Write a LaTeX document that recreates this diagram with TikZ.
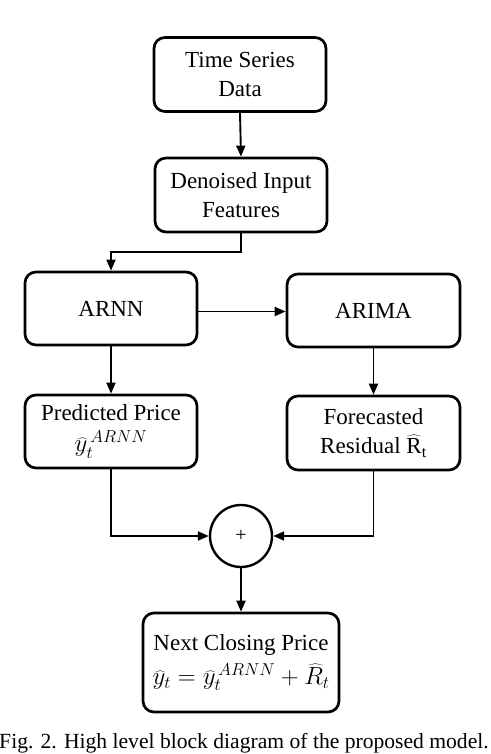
\documentclass[tikz,border=0pt]{standalone}
\usepackage{fontspec}
\setmainfont{Liberation Serif}
\usetikzlibrary{arrows.meta}
\tikzset{
  blk/.style={draw, line width=2.7pt, rounded corners=11pt, minimum width=172pt, minimum height=74pt, align=center, inner sep=2pt, font=\fontsize{23}{29}\selectfont},
  sumc/.style={draw, line width=2.4pt, circle, minimum size=62pt, inner sep=0pt, font=\fontsize{20}{24}\selectfont},
  arr/.style={line width=1.9pt, -{Triangle[length=11pt,width=9pt]}}
}
\begin{document}
\begin{tikzpicture}[x=1pt,y=-1pt]
\useasboundingbox (0,0) rectangle (490,754);
\node[blk] (ts) at (240,74.5) {Time Series\\Data};
\node[blk] (dn) at (241,195) {Denoised Input\\Features};
\node[blk, minimum height=73pt] (arnn) at (111,308.5) {ARNN};
\node[blk, minimum width=173pt, minimum height=73pt] (arima) at (373.5,310.5) {ARIMA};
\node[blk, minimum height=73pt] (pred) at (111,431.5) {Predicted Price\\[2pt]$\widehat{y}_t^{\,ARNN}$};
\node[blk, minimum width=173pt] (fore) at (373.5,433) {Forecasted\\Residual $\widehat{\mathrm{R}}_{\mathrm{t}}$};
\node[sumc] (sum) at (241,536) {+};
\node[blk, minimum width=196pt, minimum height=99pt] (next) at (241,662.5) {Next Closing Price\\[5pt]$\widehat{y}_t=\widehat{y}_t^{\,ARNN}+\widehat{R}_t$};
\node[anchor=base, font=\fontsize{21.6}{26}\selectfont, inner sep=0pt] (cap) at (244,748) {Fig. 2. High level block diagram of the proposed model.};
\draw[arr] (ts.south) -- (dn.north);
\draw[arr] (dn.south) -- ++(0,19) -| (arnn.north);
\draw[arr] ([yshift=-3pt]arnn.east) -- ([yshift=-3pt]arnn.east -| arima.west);
\draw[arr] (arnn.south) -- (pred.north);
\draw[arr] (arima.south) -- (fore.north);
\draw[arr] (pred.south) |- (sum.west);
\draw[arr] (fore.south) |- (sum.east);
\draw[arr] (sum.south) -- (next.north);
\end{tikzpicture}
\end{document}
